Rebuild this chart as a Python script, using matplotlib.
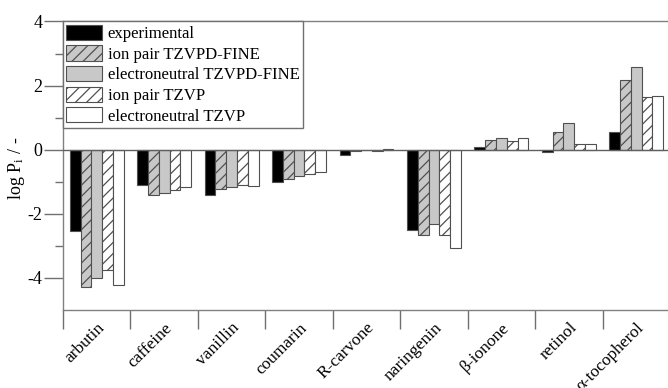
import matplotlib
matplotlib.use("Agg")
import matplotlib.pyplot as plt
import numpy as np

plt.rcParams['font.family'] = ['Liberation Serif', 'DejaVu Serif']
plt.rcParams['mathtext.fontset'] = 'stix'
plt.rcParams['hatch.linewidth'] = 0.9

compounds = ['arbutin', 'caffeine', 'vanillin', 'coumarin', 'R-carvone',
             'naringenin', 'β-ionone', 'retinol', 'α-tocopherol']

experimental     = [-2.53, -1.11, -1.40, -1.00, -0.15, -2.49, 0.10, -0.08, 0.55]
ion_tzvpd_fine   = [-4.29, -1.42, -1.24, -0.91, -0.03, -2.65, 0.31, 0.55, 2.18]
neutral_tzvpd    = [-4.01, -1.35, -1.17, -0.83, -0.02, -2.32, 0.36, 0.83, 2.58]
ion_tzvp         = [-3.74, -1.25, -1.09, -0.76, -0.05, -2.65, 0.26, 0.18, 1.66]
neutral_tzvp     = [-4.21, -1.15, -1.13, -0.69, 0.03, -3.06, 0.36, 0.19, 1.69]

series = [
    ('experimental', experimental, 'black', ''),
    ('ion pair TZVPD-FINE', ion_tzvpd_fine, '#c8c8c8', '///'),
    ('electroneutral TZVPD-FINE', neutral_tzvpd, '#c8c8c8', ''),
    ('ion pair TZVP', ion_tzvp, 'white', '///'),
    ('electroneutral TZVP', neutral_tzvp, 'white', ''),
]

fig = plt.figure(figsize=(6.68, 3.88), dpi=100)
ax = fig.add_axes([0.0943, 0.201, 0.9087, 0.7436])

x = np.arange(len(compounds)) + 0.5
w = 0.16
for k, (label, vals, color, hatch) in enumerate(series):
    ax.bar(x + (k - 2) * w, vals, w, color=color, hatch=hatch,
           edgecolor='#505050', linewidth=0.8, label=label, zorder=2)

ax.axhline(0, color='#606060', lw=1.0, zorder=3)

ax.set_xlim(0, len(compounds))
ax.set_ylim(-5, 4)

# group boundaries carry the tick marks, names sit at group centres
ax.set_xticks(np.arange(len(compounds) + 1))
ax.set_xticklabels([])
ax.set_xticks(x, minor=True)
ax.set_xticklabels(compounds, minor=True, rotation=45, ha='right',
                   rotation_mode='anchor', fontsize=12.5)
ax.tick_params(axis='x', which='major', direction='out', length=14,
               color='#707070', width=1)
ax.tick_params(axis='x', which='minor', length=0, pad=7)

ax.set_yticks([-4, -2, 0, 2, 4])
ax.set_yticks([-3, -1, 1, 3], minor=True)
ax.set_yticklabels(['-4', '-2', '0', '2', '4'], fontsize=13)
ax.tick_params(axis='y', which='major', direction='out', length=14,
               color='#707070', width=1, pad=1)
ax.tick_params(axis='y', which='minor', direction='out', length=6,
               color='#707070', width=1)

for s in ax.spines.values():
    s.set_color('#808080')
    s.set_linewidth(1)

ax.set_ylabel(r'log P$_\mathregular{i}$ / -', fontsize=13)
ax.yaxis.set_label_coords(-0.06, 0.49)

leg = ax.legend(loc='upper left', borderaxespad=0, fontsize=12.1,
                handlelength=2.1, handleheight=1.0, handletextpad=0.35,
                labelspacing=0.2, borderpad=0.2, fancybox=False,
                framealpha=1)
leg.get_frame().set_edgecolor('#707070')
leg.get_frame().set_linewidth(1)

fig.savefig('out.png', dpi=100)
